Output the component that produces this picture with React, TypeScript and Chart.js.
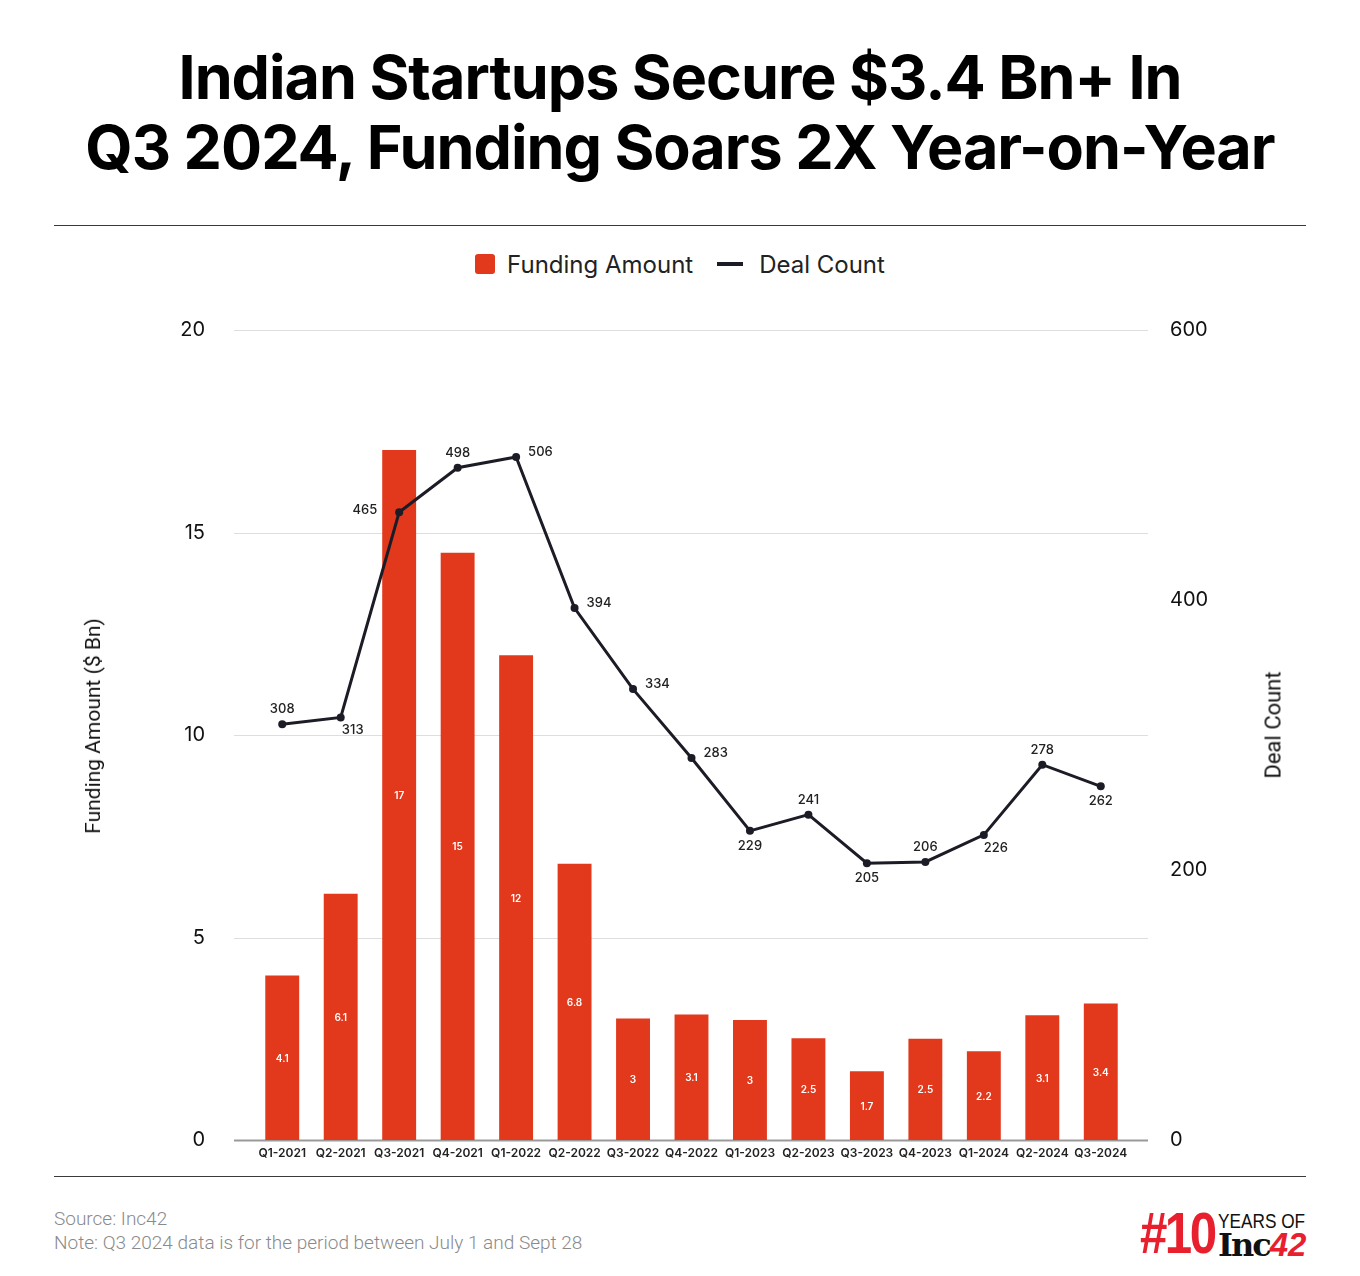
import React, { useEffect, useRef } from 'react';
import { Chart, registerables } from 'chart.js';

Chart.register(...registerables);

const quarters = [
  'Q1-2021', 'Q2-2021', 'Q3-2021', 'Q4-2021', 'Q1-2022', 'Q2-2022', 'Q3-2022', 'Q4-2022',
  'Q1-2023', 'Q2-2023', 'Q3-2023', 'Q4-2023', 'Q1-2024', 'Q2-2024', 'Q3-2024',
];
const fundingAmount = [4.06, 6.08, 17.04, 14.5, 11.97, 6.82, 3.0, 3.1, 2.96, 2.51, 1.7, 2.5, 2.19, 3.08, 3.37];
const dealCount = [308, 313, 465, 498, 506, 394, 334, 283, 229, 241, 205, 206, 226, 278, 262];
const fundingTickStep = 5;
const fundingMax = 20;
const dealTickStep = 200;
const dealMax = 600;

const BAR_COLOR = '#E2391D';
const LINE_COLOR = '#1c1c26';
const FONT = 'Inter, "Noto Sans", sans-serif';

// label placement per deal-count point (style, not data)
const dealLabelPlacement = [
  'above', 'belowRight', 'left', 'above', 'right', 'right', 'right', 'right',
  'below', 'above', 'below', 'above', 'belowRight', 'above', 'below',
];

const fmt2 = (v: number) => String(parseFloat(v.toPrecision(2)));

const gridPlugin = {
  id: 'extGrid',
  beforeDatasetsDraw(chart: any) {
    const { ctx, chartArea, scales } = chart;
    const y = scales.y;
    ctx.save();
    y.ticks.forEach((t: any) => {
      const py = Math.round(y.getPixelForValue(t.value)) + 0.5;
      ctx.beginPath();
      ctx.strokeStyle = t.value === 0 ? '#9a9a9a' : '#dedede';
      ctx.lineWidth = t.value === 0 ? 2 : 1;
      ctx.moveTo(chartArea.left - 19, py);
      ctx.lineTo(chartArea.right + 18, py);
      ctx.stroke();
    });
    ctx.restore();
  },
};

const labelPlugin = {
  id: 'valueLabels',
  afterDatasetsDraw(chart: any) {
    const { ctx } = chart;
    ctx.save();
    const barMeta = chart.getDatasetMeta(1);
    ctx.fillStyle = '#ffffff';
    ctx.font = `600 10px ${FONT}`;
    ctx.textAlign = 'center';
    ctx.textBaseline = 'middle';
    barMeta.data.forEach((el: any, i: number) => {
      const v = chart.data.datasets[1].data[i];
      ctx.fillText(fmt2(v), el.x, (el.y + el.base) / 2 + 1);
    });
    const lineMeta = chart.getDatasetMeta(0);
    ctx.fillStyle = '#222222';
    ctx.font = `500 13px ${FONT}`;
    lineMeta.data.forEach((el: any, i: number) => {
      const v = chart.data.datasets[0].data[i];
      const p = dealLabelPlacement[i];
      let x = el.x;
      let y = el.y;
      ctx.textAlign = 'center';
      if (p === 'above') y -= 15;
      else if (p === 'below') y += 15;
      else if (p === 'belowRight') { x += 12; y += 13; }
      else if (p === 'right') { ctx.textAlign = 'left'; x += 12; y -= 5; }
      else if (p === 'left') { ctx.textAlign = 'right'; x -= 22; y -= 2; }
      ctx.fillText(String(v), x, y);
    });
    ctx.restore();
  },
};

function ChartCanvas() {
  const ref = useRef<HTMLCanvasElement | null>(null);
  useEffect(() => {
    if (!ref.current) return;
    const chart = new Chart(ref.current, {
      type: 'bar',
      data: {
        labels: quarters,
        datasets: [
          {
            type: 'line',
            label: 'Deal Count',
            data: dealCount,
            yAxisID: 'y1',
            borderColor: LINE_COLOR,
            backgroundColor: LINE_COLOR,
            borderWidth: 3,
            pointRadius: 4,
            pointBackgroundColor: LINE_COLOR,
            pointBorderWidth: 0,
            tension: 0,
            order: 0,
          } as any,
          {
            type: 'bar',
            label: 'Funding Amount',
            data: fundingAmount,
            yAxisID: 'y',
            backgroundColor: BAR_COLOR,
            categoryPercentage: 1,
            barPercentage: 0.58,
            order: 1,
          } as any,
        ],
      },
      options: {
        responsive: false,
        animation: false,
        layout: { padding: { top: 28, left: 0, right: 0, bottom: 0 } },
        plugins: { legend: { display: false }, tooltip: { enabled: false } },
        scales: {
          x: {
            offset: true,
            grid: { display: false, drawTicks: false },
            border: { display: false },
            ticks: {
              color: '#222',
              font: { family: FONT, size: 12, weight: 600 } as any,
              padding: 6,
              maxRotation: 0,
              autoSkip: false,
            },
            afterFit: (s: any) => { s.height = 40; },
          },
          y: {
            position: 'left',
            min: 0,
            max: fundingMax,
            grid: { display: false, drawTicks: false },
            border: { display: false },
            ticks: {
              stepSize: fundingTickStep,
              padding: 48,
              color: '#111',
              font: { family: FONT, size: 20, weight: 400 } as any,
            },
            afterFit: (s: any) => { s.width = 253; },
          },
          y1: {
            position: 'right',
            min: 0,
            max: dealMax,
            grid: { display: false, drawTicks: false },
            border: { display: false },
            ticks: {
              stepSize: dealTickStep,
              padding: 40,
              color: '#111',
              font: { family: FONT, size: 20, weight: 400 } as any,
            },
            afterFit: (s: any) => { s.width = 230; },
          },
        },
      } as any,
      plugins: [gridPlugin, labelPlugin],
    });
    return () => chart.destroy();
  }, []);
  return <canvas ref={ref} width={1360} height={930} style={{ display: 'block' }} />;
}

export default function App() {
  return (
    <div style={{ position: 'absolute', left: 0, top: 0, width: 1360, height: 1276, background: '#fff', overflow: 'hidden', fontFamily: FONT }}>
      <div style={{ position: 'absolute', top: 42, left: 0, width: 1360, textAlign: 'center', fontFamily: FONT, fontWeight: 700, fontSize: 61, lineHeight: '70px', color: '#000', letterSpacing: -1 }}>
        Indian Startups Secure $3.4 Bn+ In<br />Q3 2024, Funding Soars 2X Year-on-Year
      </div>
      <div style={{ position: 'absolute', top: 225, left: 54, width: 1252, height: 1, background: '#3a3a3a' }} />
      <div style={{ position: 'absolute', top: 250, left: 0, width: 1360, display: 'flex', justifyContent: 'center', alignItems: 'center', fontSize: 24, color: '#222', height: 28 }}>
        <span style={{ display: 'inline-block', width: 20, height: 20, borderRadius: 3, background: BAR_COLOR, marginRight: 12 }} />
        <span>Funding Amount</span>
        <span style={{ display: 'inline-block', width: 26, height: 4, background: LINE_COLOR, marginLeft: 24, marginRight: 16 }} />
        <span>Deal Count</span>
      </div>
      <div style={{ position: 'absolute', top: 270, left: 0 }}>
        <ChartCanvas />
      </div>
      <div style={{ position: 'absolute', left: 93, top: 726, transform: 'translate(-50%, -50%) rotate(-90deg)', whiteSpace: 'nowrap', fontFamily: 'Roboto, sans-serif', fontSize: 21, color: '#111' }}>
        Funding Amount ($ Bn)
      </div>
      <div style={{ position: 'absolute', left: 1273, top: 725, transform: 'translate(-50%, -50%) rotate(-90deg)', whiteSpace: 'nowrap', fontFamily: 'Roboto, sans-serif', fontSize: 22, color: '#111' }}>
        Deal Count
      </div>
      <div style={{ position: 'absolute', top: 1176, left: 54, width: 1252, height: 1, background: '#3a3a3a' }} />
      <div style={{ position: 'absolute', top: 1207, left: 54, fontFamily: 'Roboto, sans-serif', fontSize: 19, lineHeight: '24px', color: '#8a8a8a', fontWeight: 300 }}>
        Source: Inc42<br />Note: Q3 2024 data is for the period between July 1 and Sept 28
      </div>
      <div style={{ position: 'absolute', top: 1208, left: 1140, width: 175, height: 60 }}>
        <div style={{ position: 'absolute', left: 0, top: -4, fontFamily: '"Liberation Sans", sans-serif', fontWeight: 700, fontSize: 58, lineHeight: '58px', color: '#E8202E', letterSpacing: -3, transform: 'scaleX(0.85)', transformOrigin: 'left', whiteSpace: 'nowrap' }}>#10</div>
        <div style={{ position: 'absolute', left: 78, top: 2, fontFamily: '"Liberation Sans", sans-serif', fontSize: 21, lineHeight: '21px', color: '#111', transform: 'scaleX(0.82)', transformOrigin: 'left', whiteSpace: 'nowrap' }}>YEARS OF</div>
        <div style={{ position: 'absolute', left: 78, top: 21, fontFamily: '"DejaVu Serif", serif', fontWeight: 700, fontSize: 32, lineHeight: '32px', color: '#111', letterSpacing: -2, whiteSpace: 'nowrap' }}>
          Inc<span style={{ color: '#E8202E', fontFamily: '"Liberation Sans", sans-serif', fontStyle: 'italic', letterSpacing: 0, fontSize: 33 }}>42</span>
        </div>
      </div>
    </div>
  );
}
